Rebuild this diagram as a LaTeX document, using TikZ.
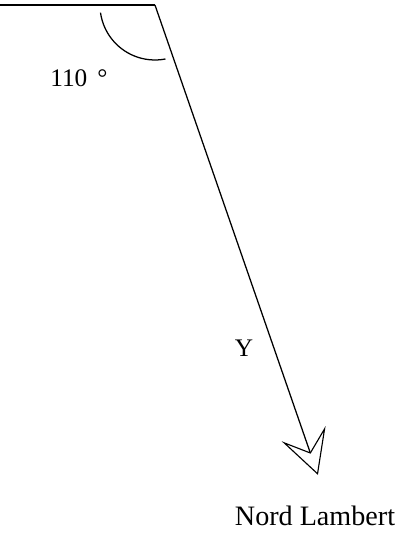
\documentclass[tikz,border=0pt]{standalone}
\usepackage{fontspec}
\setmainfont{Liberation Serif}
\usetikzlibrary{arrows.meta}
\begin{document}
\begin{tikzpicture}[xscale=0.025,yscale=0.025,
    trait/.style={line width=0.9pt},
    fleche/.style={-{Stealth[open,length=31pt,width=33pt,inset=14pt,line width=0.8pt]}}]
     \useasboundingbox (0,0) rectangle (402,-533);
     % Points de la figure
     \coordinate (gauche) at (0,-5);
     \coordinate (sommet) at (155,-5);
     \coordinate (pointe) at (318,-475);
     % Ligne horizontale et direction Y
     \draw[trait] (gauche) -- (sommet);
     \draw[trait,fleche] (sommet) -- (pointe);
     % Arc de l'angle
     \draw[trait] ([shift={(188:55)}]sommet) arc[start angle=188,end angle=281,radius=55];
     % Etiquettes
     \node[font=\fontsize{18}{20}\selectfont] (angle) at (79,-78) {110\hspace{0.4em}°};
     \node[font=\fontsize{18}{20}\selectfont] (y) at (244,-348) {Y};
     \node[font=\fontsize{20}{22}\selectfont] (nord) at (315,-516) {Nord Lambert};
\end{tikzpicture}
\end{document}
